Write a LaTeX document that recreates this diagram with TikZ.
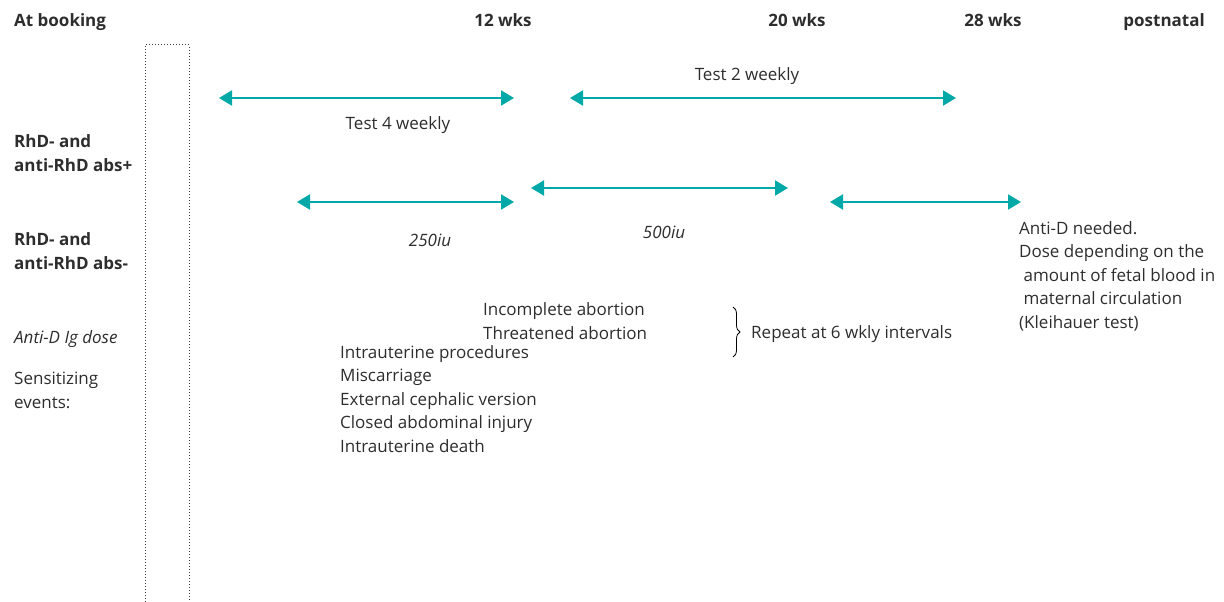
\documentclass[tikz,border=0pt]{standalone}
\usepackage{fontspec}
\setmainfont{Open Sans}
\usetikzlibrary{arrows.meta,decorations.pathreplacing}
\definecolor{RhTeal}{RGB}{0,168,168}
\definecolor{RhText}{RGB}{45,45,45}

\begin{document}
\begin{tikzpicture}[x=1pt, y=-1pt,
    every node/.style={inner sep=0pt, text=RhText, font=\fontsize{17}{23.6}\selectfont},
    head/.style={anchor=base west, font=\fontsize{17}{23.6}\selectfont\bfseries},
    txt/.style={anchor=base west, align=left},
    dose/.style={anchor=base, font=\fontsize{17}{23.6}\selectfont\itshape},
    span/.style={{Triangle[length=13pt,width=15pt]}-{Triangle[length=13pt,width=15pt]}, RhTeal, line width=2pt}]
      \useasboundingbox (0,0) rectangle (1224,602);

      % time line headings
      \node[head] (booking) at (14,27) {At booking};
      \node[head, anchor=base] (wk12) at (503,27) {12 wks};
      \node[head, anchor=base] (wk20) at (797,27) {20 wks};
      \node[head, anchor=base] (wk28) at (993,27) {28 wks};
      \node[head, anchor=base east] (post) at (1205,27) {postnatal};

      % row labels (multi-line nodes sit on their last line)
      \node[head, align=left] (absplus) at (14,171) {RhD- and\\anti-RhD abs+};
      \node[head, align=left] (absminus) at (14,269) {RhD- and\\anti-RhD abs-};
      \node[txt, font=\fontsize{17}{23.6}\selectfont\itshape] (igdose) at (14,343) {Anti-D Ig dose};
      \node[txt] (sens) at (14,408) {Sensitizing\\events:};

      % dotted booking column
      \draw[dotted, line width=1pt, black!75] (145,602) |- (189,45) -- (189,602);

      % antibody testing
      \coordinate (t4a) at (219,98);
      \coordinate (t4b) at (514,98);
      \coordinate (t2a) at (570,98);
      \coordinate (t2b) at (956,98);
      \draw[span] (t4a) -- (t4b);
      \draw[span] (t2a) -- (t2b);
      \node[anchor=base] (test4) at (398,129) {Test 4 weekly};
      \node[anchor=base] (test2) at (747,81) {Test 2 weekly};

      % anti-D doses
      \coordinate (d250a) at (297,202);
      \coordinate (d250b) at (514,202);
      \coordinate (d500a) at (531,188);
      \coordinate (d500b) at (788,188);
      \coordinate (dposta) at (830,202);
      \coordinate (dpostb) at (1021,202);
      \draw[span] (d250a) -- (d250b);
      \draw[span] (d500a) -- (d500b);
      \draw[span] (dposta) -- (dpostb);
      \node[dose] (iu250) at (430,246) {250iu};
      \node[dose] (iu500) at (664,238) {500iu};
      \node[txt] (needed) at (1019,328.5) {Anti-D needed.\\Dose depending on the\\ \ amount of fetal blood in\\ \ maternal circulation\\(Kleihauer test)};

      % sensitizing events
      \node[txt] (abort) at (483,339.5) {Incomplete abortion\\Threatened abortion};
      \node[txt] (events) at (340,452.5) {Intrauterine procedures\\Miscarriage\\External cephalic version\\Closed abdominal injury\\Intrauterine death};
      \coordinate (brtop) at (733,307);
      \coordinate (brbot) at (733,357);
      \draw[decorate, decoration={brace, amplitude=7pt}, line width=0.8pt] (brtop) -- (brbot);
      \node[txt] (repeat) at (751,338) {Repeat at 6 wkly intervals};
    \end{tikzpicture}
\end{document}
